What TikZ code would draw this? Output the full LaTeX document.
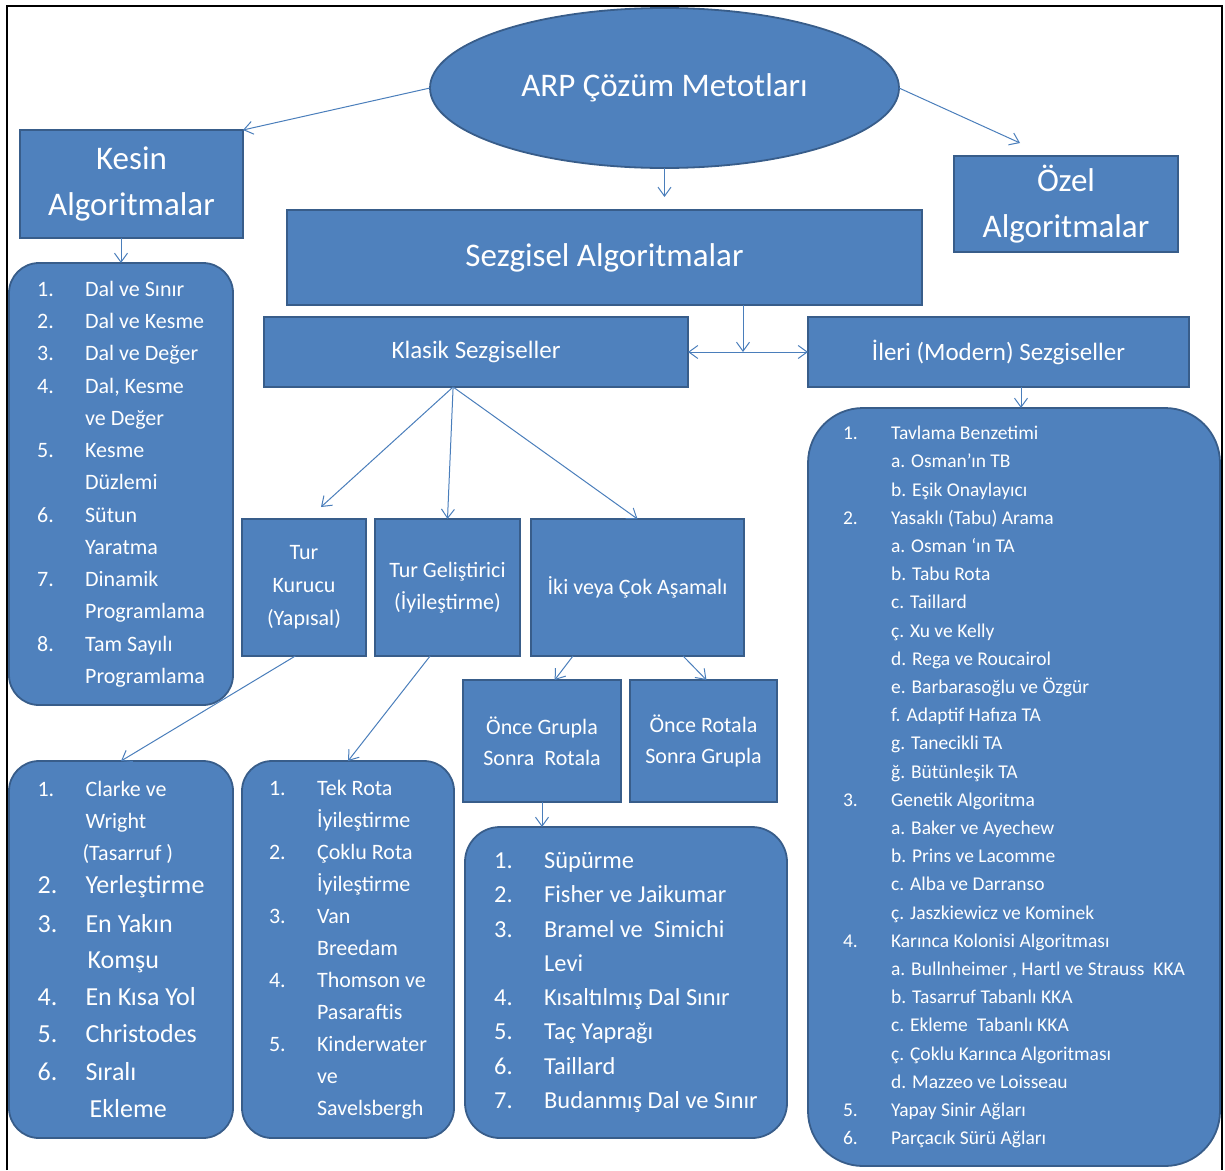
\documentclass[tikz,border=0pt]{standalone}
\usepackage{fontspec}
\setmainfont{Carlito}
\usetikzlibrary{arrows.meta,shapes.geometric,calc}
\definecolor{boxfill}{HTML}{4F81BD}
\definecolor{boxline}{HTML}{385D8A}
\definecolor{arrline}{HTML}{4A7EBB}
\newcommand\lnum[2]{\makebox[#1][l]{#2}}
\newcommand\lgtxt{\fontsize{26}{32}\selectfont}
\begin{document}
\begin{tikzpicture}[x=1pt,y=-1pt,
  >={Straight Barb[length=9pt,width=13pt]},
  base/.style={fill=boxfill,draw=boxline,line width=1.8pt,text=white,inner sep=0pt,outer sep=0pt,align=center},
  rbox/.style={base,rectangle},
  lbox/.style={base,rectangle,rounded corners=30pt,align=left},
  conn/.style={draw=arrline,line width=1pt,->},
  fbig/.style={font=\fontsize{33}{46}\selectfont},
  fmid/.style={font=\fontsize{25}{30}\selectfont},
  fsml/.style={font=\fontsize{22}{32}\selectfont}
]
\useasboundingbox (0,0) rectangle (1225,1170);
\draw[line width=2pt] (7,1170) -- (7,6) -- (1222,6) -- (1222,1170);

% main nodes
\node[base,ellipse,minimum width=469pt,minimum height=160pt,fbig] (ell) at (664.5,88) {ARP Çözüm Metotları};
\node[rbox,minimum width=223pt,minimum height=108pt,fbig] (kes) at (131.5,184) {Kesin\\Algoritmalar};
\node[rbox,minimum width=224pt,minimum height=96pt,fbig] (oz) at (1066,204) {Özel\\Algoritmalar};
\node[rbox,minimum width=635pt,minimum height=95pt,fbig] (sez) at (604.5,257.5) {Sezgisel Algoritmalar};
\node[rbox,minimum width=424pt,minimum height=70pt,fmid] (kla) at (476,352) {Klasik Sezgiseller};
\node[rbox,minimum width=381pt,minimum height=70pt,fmid] (ile) at (998.5,352) {İleri (Modern) Sezgiseller};
\node[rbox,minimum width=124pt,minimum height=137pt,font=\fontsize{22}{33}\selectfont] (tk) at (304,587.5) {Tur\\Kurucu\\(Yapısal)};
\node[rbox,minimum width=145pt,minimum height=137pt,fsml] (tg) at (447.5,587.5) {Tur Geliştirici\\(İyileştirme)};
\node[rbox,minimum width=213pt,minimum height=137pt,fsml] (iki) at (637.5,587.5) {İki veya Çok Aşamalı};
\node[rbox,minimum width=158pt,minimum height=122pt,font=\fontsize{22}{31}\selectfont] (og) at (542,741) {Önce Grupla\\Sonra~ Rotala};
\node[rbox,minimum width=147pt,minimum height=122pt,font=\fontsize{22}{31}\selectfont] (or) at (703.5,741) {Önce Rotala\\Sonra Grupla};

% list boxes
\node[lbox,minimum width=224pt,minimum height=442pt,font=\fontsize{22}{32.25}\selectfont] (klist) at (121,484) {%
\lnum{48pt}{1.}Dal ve Sınır\\
\lnum{48pt}{2.}Dal ve Kesme\\
\lnum{48pt}{3.}Dal ve Değer\\
\lnum{48pt}{4.}Dal, Kesme\\
\hspace*{48pt}ve Değer\\
\lnum{48pt}{5.}Kesme\\
\hspace*{48pt}Düzlemi\\
\lnum{48pt}{6.}Sütun\\
\hspace*{48pt}Yaratma\\
\lnum{48pt}{7.}Dinamik\\
\hspace*{48pt}Programlama\\
\lnum{48pt}{8.}Tam Sayılı\\
\hspace*{48pt}Programlama};

\node[lbox,minimum width=224pt,minimum height=377pt,font=\fontsize{22}{32}\selectfont] (clist) at (121,949.5) {%
\lnum{48pt}{1.}Clarke ve\\
\hspace*{48pt}Wright\\
\hspace*{45pt}(Tasarruf )\\[1pt]
{\lgtxt\lnum{48pt}{2.}Yerleştirme}\\[7pt]
{\lgtxt\lnum{48pt}{3.}En Yakın}\\[4pt]
{\lgtxt\hspace*{50pt}Komşu}\\[5pt]
{\lgtxt\lnum{48pt}{4.}En Kısa Yol}\\[5pt]
{\lgtxt\lnum{48pt}{5.}Christodes}\\[6pt]
{\lgtxt\lnum{48pt}{6.}Sıralı}\\[5pt]
{\lgtxt\hspace*{52pt}Ekleme}};

\node[lbox,minimum width=212pt,minimum height=377pt,font=\fontsize{22}{32}\selectfont] (tlist) at (348,949.5) {%
\lnum{48pt}{1.}Tek Rota\\
\hspace*{48pt}İyileştirme\\
\lnum{48pt}{2.}Çoklu Rota\\
\hspace*{48pt}İyileştirme\\
\lnum{48pt}{3.}Van\\
\hspace*{48pt}Breedam\\
\lnum{48pt}{4.}Thomson ve\\
\hspace*{48pt}Pasaraftis\\
\lnum{48pt}{5.}Kinderwater\\
\hspace*{48pt}ve\\
\hspace*{48pt}Savelsbergh};

\node[lbox,rounded corners=35pt,minimum width=322pt,minimum height=311pt,font=\fontsize{24.4}{34.3}\selectfont] (slist) at (626,982.5) {%
\lnum{50pt}{1.}Süpürme\\
\lnum{50pt}{2.}Fisher ve Jaikumar\\
\lnum{50pt}{3.}Bramel ve~ Simichi\\
\hspace*{50pt}Levi\\
\lnum{50pt}{4.}Kısaltılmış Dal Sınır\\
\lnum{50pt}{5.}Taç Yaprağı\\
\lnum{50pt}{6.}Taillard\\
\lnum{50pt}{7.}Budanmış Dal ve Sınır};

\node[lbox,rounded corners=55pt,minimum width=412pt,minimum height=758pt,font=\fontsize{19.5}{28.2}\selectfont] (mlist) at (1014,787) {%
\lnum{48pt}{1.}Tavlama Benzetimi\\
\hspace*{48pt}a. Osman’ın TB\\
\hspace*{48pt}b. Eşik Onaylayıcı\\
\lnum{48pt}{2.}Yasaklı (Tabu) Arama\\
\hspace*{48pt}a. Osman ‘ın TA\\
\hspace*{48pt}b. Tabu Rota\\
\hspace*{48pt}c. Taillard\\
\hspace*{48pt}ç. Xu ve Kelly\\
\hspace*{48pt}d. Rega ve Roucairol\\
\hspace*{48pt}e. Barbarasoğlu ve Özgür\\
\hspace*{48pt}f. Adaptif Hafıza TA\\
\hspace*{48pt}g. Tanecikli TA\\
\hspace*{48pt}ğ. Bütünleşik TA\\
\lnum{48pt}{3.}Genetik Algoritma\\
\hspace*{48pt}a. Baker ve Ayechew\\
\hspace*{48pt}b. Prins ve Lacomme\\
\hspace*{48pt}c. Alba ve Darranso\\
\hspace*{48pt}ç. Jaszkiewicz ve Kominek\\
\lnum{48pt}{4.}Karınca Kolonisi Algoritması\\
\hspace*{48pt}a. Bullnheimer , Hartl ve Strauss~ KKA\\
\hspace*{48pt}b. Tasarruf Tabanlı KKA\\
\hspace*{48pt}c. Ekleme~ Tabanlı KKA\\
\hspace*{48pt}ç. Çoklu Karınca Algoritması\\
\hspace*{48pt}d. Mazzeo ve Loisseau\\
\lnum{48pt}{5.}Yapay Sinir Ağları\\
\lnum{48pt}{6.}Parçacık Sürü Ağları};

% free arrow ends
\coordinate (ozt) at (1020,143);
\coordinate (sezt) at (664.5,197);
\coordinate (jn) at (743,352);
\coordinate (mt) at (1021,408);
\coordinate (tkt) at (321,507);

% connectors
\draw[conn] (ell.west) -- (kes.north east);
\draw[conn] (ell.east) -- (ozt);
\draw[conn] (ell.south) -- (sezt);
\draw[conn] (kes.south -| klist.north) -- (klist.north);
\draw[conn] (sez.south -| jn) -- (jn);
\draw[conn,<->] (kla.east) -- (ile.west);
\draw[conn] (ile.south -| mt) -- (mt);
\draw[conn] ($(kla.south west)!0.446!(kla.south east)$) -- (tkt);
\draw[conn] ($(kla.south west)!0.446!(kla.south east)$) -- (tg.north);
\draw[conn] ($(kla.south west)!0.446!(kla.south east)$) -- (iki.north);
\draw[conn] ($(tk.south west)!0.43!(tk.south east)$) -- (clist.north);
\draw[conn] ($(tg.south west)!0.38!(tg.south east)$) -- (tlist.north);
\draw[conn] ($(iki.south west)!0.197!(iki.south east)$) -- ($(og.north west)!0.58!(og.north east)$);
\draw[conn] ($(iki.south west)!0.714!(iki.south east)$) -- ($(or.north west)!0.52!(or.north east)$);
\draw[conn] (og.south) -- (og.south |- slist.north);
\end{tikzpicture}
\end{document}
